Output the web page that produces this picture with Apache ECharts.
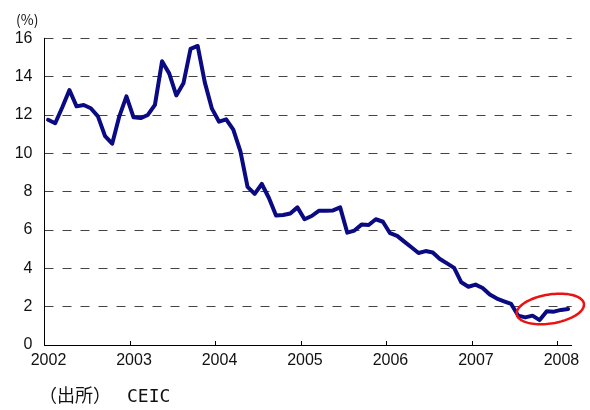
<!DOCTYPE html>
<html>
<head>
<meta charset="utf-8">
<script src="https://cdn.jsdelivr.net/npm/echarts@6/dist/echarts.min.js"></script>
<style>
  html, body { margin: 0; padding: 0; background: #fff; }
  #chart { width: 590px; height: 410px; }
</style>
</head>
<body>
<div id="chart"></div>
<script>
// monthly rate (%), 2002-01 .. 2008-02
const startYear = 2002;
const rates = [
  11.75, 11.57, 12.4, 13.3, 12.45, 12.52, 12.35, 11.93, 10.9, 10.5, 11.93, 12.97,
  11.88, 11.84, 12.0, 12.53, 14.8, 14.17, 13.02, 13.65, 15.45, 15.6, 13.7, 12.33,
  11.65, 11.77, 11.23, 10.1, 8.25, 7.88, 8.4, 7.67, 6.75, 6.78, 6.86, 7.18,
  6.56, 6.73, 7.0, 7.0, 7.02, 7.18, 5.86, 5.97, 6.28, 6.26, 6.56, 6.43,
  5.83, 5.69, 5.39, 5.1, 4.8, 4.9, 4.83, 4.49, 4.26, 4.02, 3.27, 3.04,
  3.15, 2.97, 2.63, 2.42, 2.28, 2.14, 1.53, 1.44, 1.53, 1.3, 1.76, 1.74,
  1.83, 1.88
];
const yTicks = [0, 2, 4, 6, 8, 10, 12, 14, 16];
const highlightCenter = [71, 1.88]; // month index, rate

const chart = echarts.init(document.getElementById('chart'));
const labelFont = 'Liberation Sans, Arial, sans-serif';

const texts = [
  { type: 'text', left: 16, top: 13,
    style: { text: '(%)', fontSize: 14, fontFamily: 'Noto Sans CJK JP', fill: '#111' } },
  { type: 'text', left: 39, top: 386,
    style: { text: '（出所）', fontSize: 18, fontFamily: 'Noto Sans CJK JP', fill: '#111' } },
  { type: 'text', left: 127, top: 388,
    style: { text: 'CEIC', fontSize: 18, fontFamily: 'DejaVu Sans Mono', fill: '#111' } }
];

chart.setOption({
  animation: false,
  backgroundColor: '#fff',
  grid: { left: 44.5, right: 18.3, top: 38.3, bottom: 65, containLabel: false, outerBoundsMode: 'none' },
  xAxis: {
    type: 'value',
    min: 0,
    max: rates.length,
    interval: 12,
    axisLine: { lineStyle: { color: '#000', width: 1 } },
    axisTick: { show: true, inside: true, length: 4, lineStyle: { color: '#000' } },
    axisLabel: {
      showMaxLabel: false,
      color: '#111',
      fontSize: 16,
      fontFamily: labelFont,
      margin: 8,
      padding: [0, 0, 0, 8],
      formatter: v => String(startYear + v / 12)
    },
    splitLine: { show: false }
  },
  yAxis: {
    type: 'value',
    min: yTicks[0],
    max: yTicks[yTicks.length - 1],
    interval: 2,
    axisLine: { show: true, lineStyle: { color: '#000', width: 1 } },
    axisTick: { show: false },
    axisLabel: { color: '#111', fontSize: 16, fontFamily: labelFont, margin: 12 },
    splitLine: { show: true, lineStyle: { color: '#444', width: 1, type: [9, 9] } }
  },
  series: [{
    type: 'line',
    data: rates.map((v, i) => [i + 0.5, v]),
    symbol: 'none',
    smooth: false,
    lineStyle: { color: '#0a0a82', width: 4, join: 'round', cap: 'round' }
  }],
  graphic: texts
});

// red ellipse around the latest months
const c = chart.convertToPixel({ gridIndex: 0 }, highlightCenter);
const rx = 34, ry = 14.5, rot = -9 * Math.PI / 180;
const pts = [];
for (let k = 0; k < 96; k++) {
  const t = k / 96 * Math.PI * 2;
  const ex = rx * Math.cos(t), ey = ry * Math.sin(t);
  pts.push([c[0] + ex * Math.cos(rot) - ey * Math.sin(rot), c[1] + ex * Math.sin(rot) + ey * Math.cos(rot)]);
}
chart.setOption({
  graphic: texts.concat([
    { type: 'polygon', z: 100, shape: { points: pts },
      style: { fill: 'none', stroke: '#ee1111', lineWidth: 2.5 } }
  ])
});
</script>
</body>
</html>
